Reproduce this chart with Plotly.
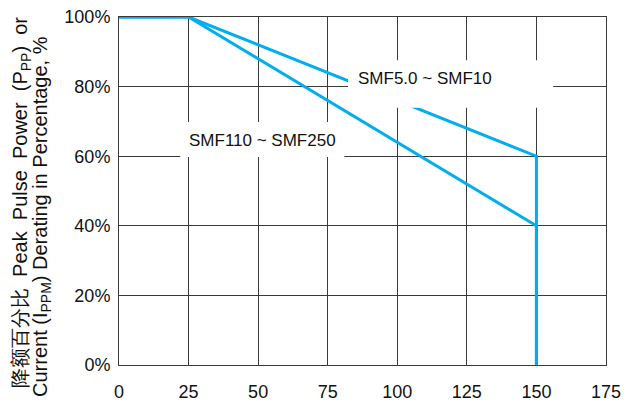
import plotly.graph_objects as go

# Data
temps_a = [0, 25, 150, 150]
pct_a = [100, 100, 60, 0]          # SMF5.0 ~ SMF10
temps_b = [0, 25, 150, 150]
pct_b = [100, 100, 40, 0]          # SMF110 ~ SMF250
x_ticks = [0, 25, 50, 75, 100, 125, 150, 175]
y_ticks = [0, 20, 40, 60, 80, 100]
y_tick_text = ["0%", "20%", "40%", "60%", "80%", "100%"]
label_a = "SMF5.0 ~ SMF10"
label_b = "SMF110 ~ SMF250"

BLUE = "#00AEEF"
GRID = "#3a3a3a"
FONT = "Liberation Sans, Arial, sans-serif"

# page body has an 8px margin; figure sized so it ends at the window edge
OFF = 8
W, H = 629 - OFF, 403 - OFF
L, R, T, B = 119 - OFF, 23, 17 - OFF, 38
pw = W - L - R
ph = H - T - B

fig = go.Figure()
fig.add_trace(go.Scatter(x=temps_a, y=pct_a, mode="lines",
                         line=dict(color=BLUE, width=3), showlegend=False))
fig.add_trace(go.Scatter(x=temps_b, y=pct_b, mode="lines",
                         line=dict(color=BLUE, width=3), showlegend=False))

fig.update_layout(
    width=W, height=H,
    margin=dict(l=L, r=R, t=T, b=B, autoexpand=False),
    paper_bgcolor="white", plot_bgcolor="white",
    font=dict(family=FONT, size=18, color="#111"),
    xaxis=dict(range=[0, 175], tickvals=x_ticks, ticktext=[str(v) for v in x_ticks],
               showgrid=True, gridcolor=GRID, gridwidth=1,
               showline=True, linecolor=GRID, linewidth=1, mirror=True,
               zeroline=False, ticks="", ticklabelstandoff=10, automargin=False,
               ticklabeloverflow="allow", tickfont=dict(size=18)),
    yaxis=dict(range=[0, 100], tickvals=y_ticks, ticktext=y_tick_text,
               showgrid=True, gridcolor=GRID, gridwidth=1,
               showline=True, linecolor=GRID, linewidth=1, mirror=True,
               zeroline=False, ticks="", ticklabelstandoff=4, automargin=False,
               ticklabeloverflow="allow", tickfont=dict(size=18)),
)

# white label boxes above the lines
fig.add_shape(type="rect", xref="x", yref="y", x0=82.3, x1=156, y0=73.9, y1=87.6,
              fillcolor="white", line=dict(width=0), layer="above")
fig.add_shape(type="rect", xref="x", yref="y", x0=22, x1=81, y0=59.8, y1=69.8,
              fillcolor="white", line=dict(width=0), layer="above")

fig.add_annotation(x=85, y=82.4, xref="x", yref="y", text=label_a, showarrow=False,
                   xanchor="left", yanchor="middle", font=dict(size=17, color="#111"))
fig.add_annotation(x=24.5, y=64.4, xref="x", yref="y", text=label_b, showarrow=False,
                   xanchor="left", yanchor="middle", font=dict(size=17, color="#111"))

# two-line y axis title (window pixel positions converted to paper coords)
nb = "\u00a0"
line1 = f"降额百分比{nb*2}Peak{nb*2}Pulse{nb*2}Power{nb*2}(P<sub>PP</sub>){nb*2}or"
line2 = "Current (I<sub>PPM</sub>) Derating in Percentage, %"
for txt, px, py in [(line1, 21, 203), (line2, 41, 217)]:
    fx, fy = px - OFF, py - OFF
    fig.add_annotation(x=(fx - L) / pw, y=(H - B - fy) / ph, xref="paper", yref="paper",
                       text=txt, showarrow=False, textangle=-90,
                       xanchor="center", yanchor="middle",
                       font=dict(size=20, color="#111"))

fig.write_html("out.html")
